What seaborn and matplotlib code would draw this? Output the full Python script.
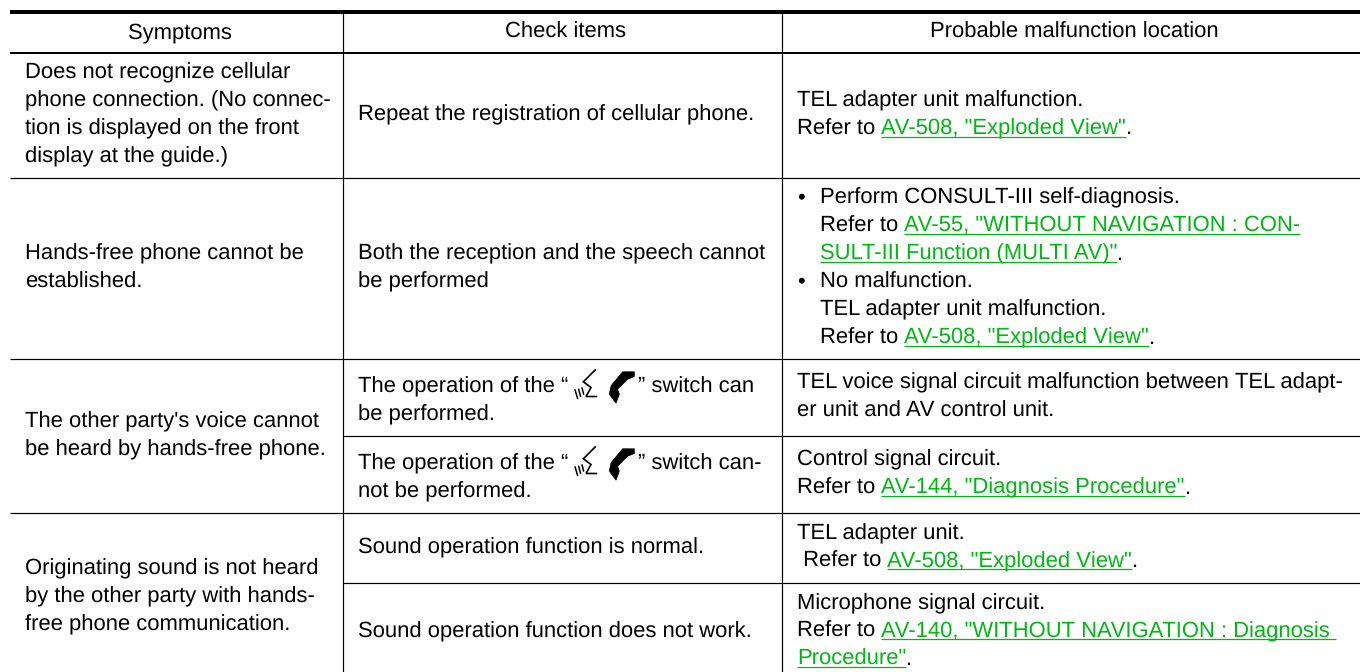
import re
import matplotlib
matplotlib.use("Agg")
import matplotlib.pyplot as plt
import seaborn as sns
from matplotlib.patches import Polygon

sns.set_theme(style="white")
plt.rcParams['font.family'] = ['Liberation Sans', 'DejaVu Sans']
plt.rcParams['text.hinting'] = 'no_hinting'
plt.rcParams['text.hinting_factor'] = 1

headers = ["Symptoms", "Check items", "Probable malfunction location"]
symptom_cells = [
    ["Does not recognize cellular", "phone connection. (No connec-", "tion is displayed on the front", "display at the guide.)"],
    ["Hands-free phone cannot be", "established."],
    ["The other party's voice cannot", "be heard by hands-free phone."],
    ["Originating sound is not heard", "by the other party with hands-", "free phone communication."],
]
check_cells = [
    ["Repeat the registration of cellular phone."],
    ["Both the reception and the speech cannot", "be performed"],
    ["The operation of the “@” switch can", "be performed."],
    ["The operation of the “@” switch can-", "not be performed."],
    ["Sound operation function is normal."],
    ["Sound operation function does not work."],
]
location_cells = [
    ["TEL adapter unit malfunction.", "Refer to [AV-508, \"Exploded View\"]."],
    ["•\tPerform CONSULT-III self-diagnosis.", "\tRefer to [AV-55, \"WITHOUT NAVIGATION : CON-]",
     "\t[SULT-III Function (MULTI AV)\"]." , "•\tNo malfunction.", "\tTEL adapter unit malfunction.",
     "\tRefer to [AV-508, \"Exploded View\"]."],
    ["TEL voice signal circuit malfunction between TEL adapt-", "er unit and AV control unit."],
    ["Control signal circuit.", "Refer to [AV-144, \"Diagnosis Procedure\"]."],
    ["TEL adapter unit.", " Refer to [AV-508, \"Exploded View\"]."],
    ["Microphone signal circuit.", "Refer to [AV-140, \"WITHOUT NAVIGATION : Diagnosis ]", "[Procedure\"]."],
]

# table geometry in pixels of the 1360x672 picture
LEFT, COL1, COL2, RIGHT = 10, 342.5, 781.5, 1360
TOP, HEAD, BOTTOM = 12, 53, 681
ROW_A, ROW_B, ROW_C, ROW_D, ROW_E = 178, 359, 436, 513, 583
symptom_rows = [(HEAD, ROW_A), (ROW_A, ROW_B), (ROW_B, ROW_D), (ROW_D, BOTTOM)]
detail_rows = [(HEAD, ROW_A), (ROW_A, ROW_B), (ROW_B, ROW_C), (ROW_C, ROW_D), (ROW_D, ROW_E), (ROW_E, BOTTOM)]

FS = 22.3 * 72 / 100
LH = 28
GREEN = "#00B814"

fig = plt.figure(figsize=(13.6, 6.72), dpi=100, facecolor="white")
ax = fig.add_axes([0, 0, 1, 1])
ax.set_xlim(0, 1360)
ax.set_ylim(672, 0)
ax.set_axis_off()
renderer = fig.canvas.get_renderer()


def width(s):
    bb = ax.text(0, 0, "|" + s + "|", fontsize=FS).get_window_extent(renderer).width
    bar = ax.text(0, 0, "|", fontsize=FS).get_window_extent(renderer).width
    for child in ax.texts[-2:]:
        child.remove()
    return bb - 2 * bar


def icons(x, base):
    # talk switch: speech chevron with sound waves, then the handset
    sx = x + 6
    ax.plot([sx + 21, sx + 9, sx + 16.7, sx + 11.7, sx + 22.3],
            [base - 22.7, base - 10.7, base - 5, base + 4, base + 4],
            color="black", lw=1.2, solid_joinstyle="miter")
    for a, b, c, d in ((0.7, -2.7, 3.3, 6), (4.3, -3.3, 6.3, 4), (7.7, -4.7, 9.3, 1.7)):
        ax.plot([sx + a, sx + c], [base + b, base + d], color="black", lw=1.1)
    px = x + 41
    hand = [(25, -20.7), (13.3, -20.7), (1.7, -6.7), (0, 1.7), (6.7, 10.7),
            (10, 1.7), (8.3, -3.3), (18.3, -13.3), (25, -16)]
    ax.add_patch(Polygon([(px + a, base + b) for a, b in hand], closed=True, fc="black", ec="black", lw=0.5))


def draw_line(x, base, line):
    for tab_i, seg in enumerate(line.split("\t")):
        cx = x + 22.5 * tab_i if "\t" in line else x
        for part in re.split(r"(\[[^\]]*\]|@)", seg):
            if not part:
                continue
            if part == "@":
                icons(cx, base)
                cx += 70
                continue
            link = part.startswith("[")
            s = part[1:-1] if link else part
            ax.text(cx, base, s, fontsize=FS, color=GREEN if link else "black", ha="left", va="baseline")
            w = width(s)
            if link:
                ax.plot([cx, cx + w], [base + 2, base + 2], color=GREEN, lw=0.9, solid_capstyle="butt")
            cx += w


def draw_cell(x, span, lines):
    has_icon = any("@" in ln for ln in lines)
    center = sum(span) / 2 + (4 if has_icon else 0)
    first = center - LH * (len(lines) - 1) / 2 + 5
    for i, line in enumerate(lines):
        draw_line(x, first + i * LH, line)


# rules
ax.hlines(TOP, LEFT, RIGHT, color="black", lw=4 * 0.72)
ax.hlines(HEAD, LEFT, RIGHT, color="black", lw=2 * 0.72)
ax.hlines([ROW_A, ROW_B, ROW_D], LEFT, RIGHT, color="black", lw=1.2 * 0.72)
ax.hlines([ROW_C, ROW_E], COL1, RIGHT, color="black", lw=1.2 * 0.72)
ax.vlines([COL1, COL2], TOP, BOTTOM, color="black", lw=1.2 * 0.72)

# header
for cx, h in zip([179.5, 565.5, 1074.5], headers):
    ax.text(cx, 38, h, fontsize=FS, ha="center", va="baseline", color="black")

# body
for span, lines in zip(symptom_rows, symptom_cells):
    draw_cell(25, span, lines)
for span, lines in zip(detail_rows, check_cells):
    draw_cell(358, span, lines)
for span, lines in zip(detail_rows, location_cells):
    draw_cell(797, span, lines)

fig.savefig("out.png", dpi=100, facecolor="white")
